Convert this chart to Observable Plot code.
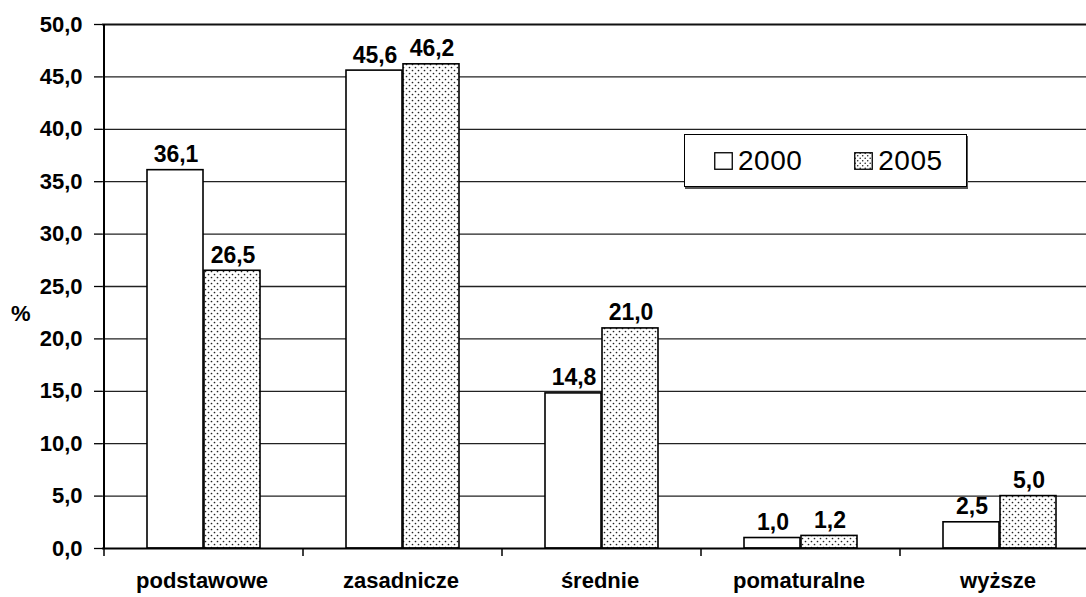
<!DOCTYPE html>
<html>
<head>
<meta charset="utf-8">
<script src="https://cdn.jsdelivr.net/npm/d3@7"></script>
<script src="https://cdn.jsdelivr.net/npm/@observablehq/plot@0.6"></script>
<style>
  html, body { margin: 0; padding: 0; background: #fff; }
  #wrap { position: relative; width: 1086px; height: 597px; overflow: hidden; font-family: "Liberation Sans", Arial, sans-serif; }
  #legend { position: absolute; left: 684px; top: 134px; width: 281px; height: 51px; border: 1.5px solid #000; background: #fff;
            box-shadow: 1px 2px 0 #555; display: flex; align-items: center; font-size: 28px; letter-spacing: 0.5px; }
  .item { display: flex; align-items: center; }
  .item svg { margin-right: 5px; }
</style>
</head>
<body>
<div id="wrap"></div>
<script>
const categories = ["podstawowe", "zasadnicze", "średnie", "pomaturalne", "wyższe"];
const series = ["2000", "2005"];
const values2000 = [36.1, 45.6, 14.8, 1.0, 2.5];
const values2005 = [26.5, 46.2, 21.0, 1.2, 5.0];
const yTicks = [0, 5, 10, 15, 20, 25, 30, 35, 40, 45, 50];

const fmt = d => d.toFixed(1).replace(".", ",");
const rows = categories.flatMap((c, i) => [
  {cat: c, year: series[0], value: values2000[i]},
  {cat: c, year: series[1], value: values2005[i]}
]);
const r2000 = rows.filter(d => d.year === series[0]);
const r2005 = rows.filter(d => d.year === series[1]);
const font = "Liberation Sans, Arial, sans-serif";

const decor = (index, scales, values, dims) => {
  const ns = "http://www.w3.org/2000/svg";
  const g = document.createElementNS(ns, "g");
  g.innerHTML = `<defs><pattern id="dots" width="6" height="6" patternUnits="userSpaceOnUse">
      <rect width="6" height="6" fill="#fff"/>
      <circle cx="1.5" cy="1.5" r="0.85" fill="#222"/>
      <circle cx="4.5" cy="4.5" r="0.85" fill="#222"/></pattern></defs>`;
  const x = scales.x, y = scales.y;
  const step = x(categories[1]) - x(categories[0]);
  const y0 = y(0);
  const bounds = categories.map(c => x(c)).concat([x(categories[categories.length - 1]) + step]);
  for (const bx of bounds) {
    const l = document.createElementNS(ns, "line");
    l.setAttribute("x1", bx); l.setAttribute("x2", bx);
    l.setAttribute("y1", y0); l.setAttribute("y2", y0 + 8);
    l.setAttribute("stroke", "#000"); l.setAttribute("stroke-width", 1.5);
    g.appendChild(l);
  }
  const ax = document.createElementNS(ns, "line");
  ax.setAttribute("x1", x(categories[0])); ax.setAttribute("x2", x(categories[0]));
  ax.setAttribute("y1", y(50)); ax.setAttribute("y2", y0);
  ax.setAttribute("stroke", "#000"); ax.setAttribute("stroke-width", 2);
  g.appendChild(ax);
  return g;
};

const chart = Plot.plot({
  width: 1086,
  height: 597,
  marginLeft: 102,
  marginRight: 0,
  marginTop: 24,
  marginBottom: 49,
  style: {fontFamily: font, background: "#fff", overflow: "hidden"},
  x: {domain: categories, range: [102, 1101], padding: 0},
  y: {domain: [0, 50], range: [548, 24]},
  marks: [
    Plot.ruleY(yTicks.filter(d => d > 0 && d < 50), {y: d => d, stroke: "#222", strokeWidth: 1.3}),
    Plot.ruleY([50], {stroke: "#111", strokeWidth: 2}),
    Plot.barY(r2000, {x: "cat", y: "value", insetLeft: 43, insetRight: 100, fill: "#fff", stroke: "#000", strokeWidth: 1.6}),
    Plot.barY(r2005, {x: "cat", y: "value", insetLeft: 100, insetRight: 43, fill: "url(#dots)", stroke: "#000", strokeWidth: 1.6}),
    Plot.ruleY([0], {stroke: "#000", strokeWidth: 2.2}),
    decor,
    Plot.text(r2000, {x: "cat", y: "value", text: d => fmt(d.value), dx: -28, dy: -8, lineAnchor: "bottom",
      fontSize: 23, fontWeight: "bold", fill: "#000", letterSpacing: "1.5px"}),
    Plot.text(r2005, {x: "cat", y: "value", text: d => fmt(d.value), dx: 29, dy: -8, lineAnchor: "bottom",
      fontSize: 23, fontWeight: "bold", fill: "#000", letterSpacing: "1.5px"}),
    Plot.axisY({ticks: yTicks, tickFormat: fmt, tickSize: 8, tickPadding: 12, fontSize: 22, fontWeight: "bold",
      label: null, stroke: "#000", strokeWidth: 1.3}),
    Plot.axisX({tickSize: 0, tickPadding: 24, fontSize: 22, fontWeight: "bold", label: null, dx: -2}),
    Plot.text(["%"], {frameAnchor: "left", dx: -72, dy: 27, fontSize: 22, fontWeight: "bold", fill: "#000", textAnchor: "end"})
  ]
});
document.getElementById("wrap").appendChild(chart);

const legend = document.createElement("div");
legend.id = "legend";
const sw = (fill) => `<svg width="19" height="18"><defs><pattern id="ldots" width="5" height="5" patternUnits="userSpaceOnUse">
  <rect width="5" height="5" fill="#fff"/><circle cx="1.2" cy="1.2" r="0.8" fill="#222"/><circle cx="3.7" cy="3.7" r="0.8" fill="#222"/></pattern></defs>
  <rect x="0.75" y="0.75" width="17.5" height="16.5" fill="${fill}" stroke="#000" stroke-width="1.3"/></svg>`;
legend.innerHTML = `<div class="item" style="margin-left:29px">${sw("#fff")}<span>${series[0]}</span></div>
  <div class="item" style="margin-left:52px">${sw("url(#ldots)")}<span>${series[1]}</span></div>`;
document.getElementById("wrap").appendChild(legend);
</script>
</body>
</html>
